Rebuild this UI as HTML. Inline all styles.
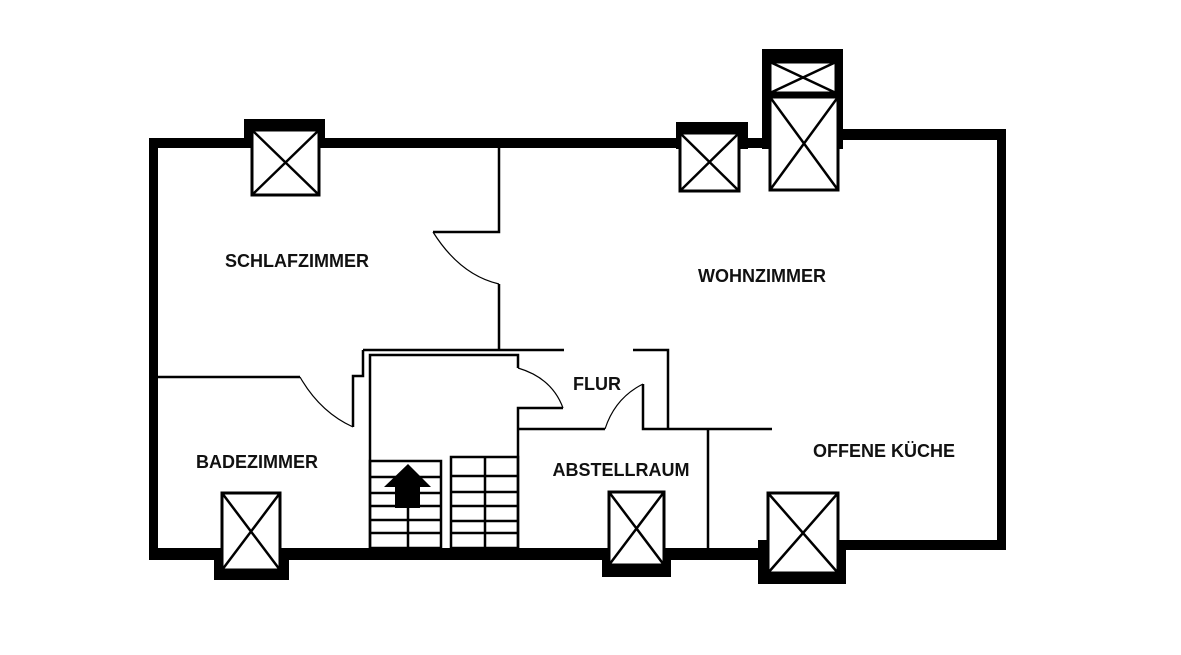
<!DOCTYPE html>
<html><head><meta charset="utf-8"><style>
html,body{margin:0;padding:0;background:#fff;}
svg{display:block;}
text{font-family:"Liberation Sans",sans-serif;font-weight:bold;font-size:18px;fill:#111;text-anchor:middle;}
</style></head><body>
<svg width="1181" height="655" viewBox="0 0 1181 655" xmlns="http://www.w3.org/2000/svg">
<rect width="1181" height="655" fill="#fff"/>
<g fill="#000">
<rect x="149" y="138" width="614" height="10"/>
<rect x="149" y="138" width="9" height="422"/>
<rect x="149" y="548" width="610" height="12"/>
<rect x="758" y="540" width="248" height="10"/>
<rect x="843" y="129" width="163" height="11"/>
<rect x="997" y="129" width="9" height="421"/>
<rect x="244" y="119" width="81" height="29"/>
<rect x="676" y="122" width="72" height="27"/>
<rect x="762" y="49" width="81" height="100"/>
<rect x="214" y="548" width="75" height="32"/>
<rect x="602" y="548" width="69" height="29"/>
<rect x="758" y="540" width="88" height="44"/>
</g>
<g fill="#fff" stroke="#000" stroke-width="3">
<rect x="252" y="130" width="67" height="65"/>
<rect x="680" y="133" width="59" height="58"/>
<rect x="770" y="62" width="66" height="31"/>
<rect x="770" y="97" width="68" height="93"/>
<rect x="222" y="493" width="58" height="77"/>
<rect x="609" y="492" width="55" height="73"/>
<rect x="768" y="493" width="70" height="80"/>
</g>
<g stroke="#000" stroke-width="2.5" fill="none">
<path d="M252 130L319 195M319 130L252 195"/>
<path d="M680 133L739 191M739 133L680 191"/>
<path d="M770 62L836 93M836 62L770 93"/>
<path d="M770 97L838 190M838 97L770 190"/>
<path d="M222 493L280 570M280 493L222 570"/>
<path d="M609 492L664 565M664 492L609 565"/>
<path d="M768 493L838 573M838 493L768 573"/>
</g>
<g stroke="#000" stroke-width="2.5" fill="none">
<path d="M499 148V232H433"/>
<path d="M499 284V350"/>
<path d="M363 350H564"/>
<path d="M633 350H668V429"/>
<path d="M370 548V355H518V368"/>
<path d="M563 408H518V548"/>
<path d="M363 350V376H353V427"/>
<path d="M158 377H300"/>
<path d="M518 429H605"/>
<path d="M643 384V429H772"/>
<path d="M708 429V548"/>
</g>
<g stroke="#000" stroke-width="1.2" fill="none">
<path d="M433 232Q460 275 499 284"/>
<path d="M300 377Q320 412 353 427"/>
<path d="M518 368Q552 378 563 408"/>
<path d="M605 429Q615 398 643 384"/>
</g>
<g stroke="#000" stroke-width="2.5" fill="none">
<rect x="370" y="461" width="71" height="87"/>
<path d="M370 477H441M370 493H441M370 506H441M370 520H441M370 533H441M408 508V548"/>
<rect x="451" y="457" width="67" height="91"/>
<path d="M451 476H518M451 492H518M451 506H518M451 521H518M451 533H518M485 457V548"/>
</g>
<path d="M408 464L431 487H420V508H395V487H384Z" fill="#000"/>
<text x="297" y="267">SCHLAFZIMMER</text>
<text x="762" y="282">WOHNZIMMER</text>
<text x="597" y="390">FLUR</text>
<text x="257" y="468">BADEZIMMER</text>
<text x="621" y="476">ABSTELLRAUM</text>
<text x="884" y="457">OFFENE KÜCHE</text>
</svg>
</body></html>
